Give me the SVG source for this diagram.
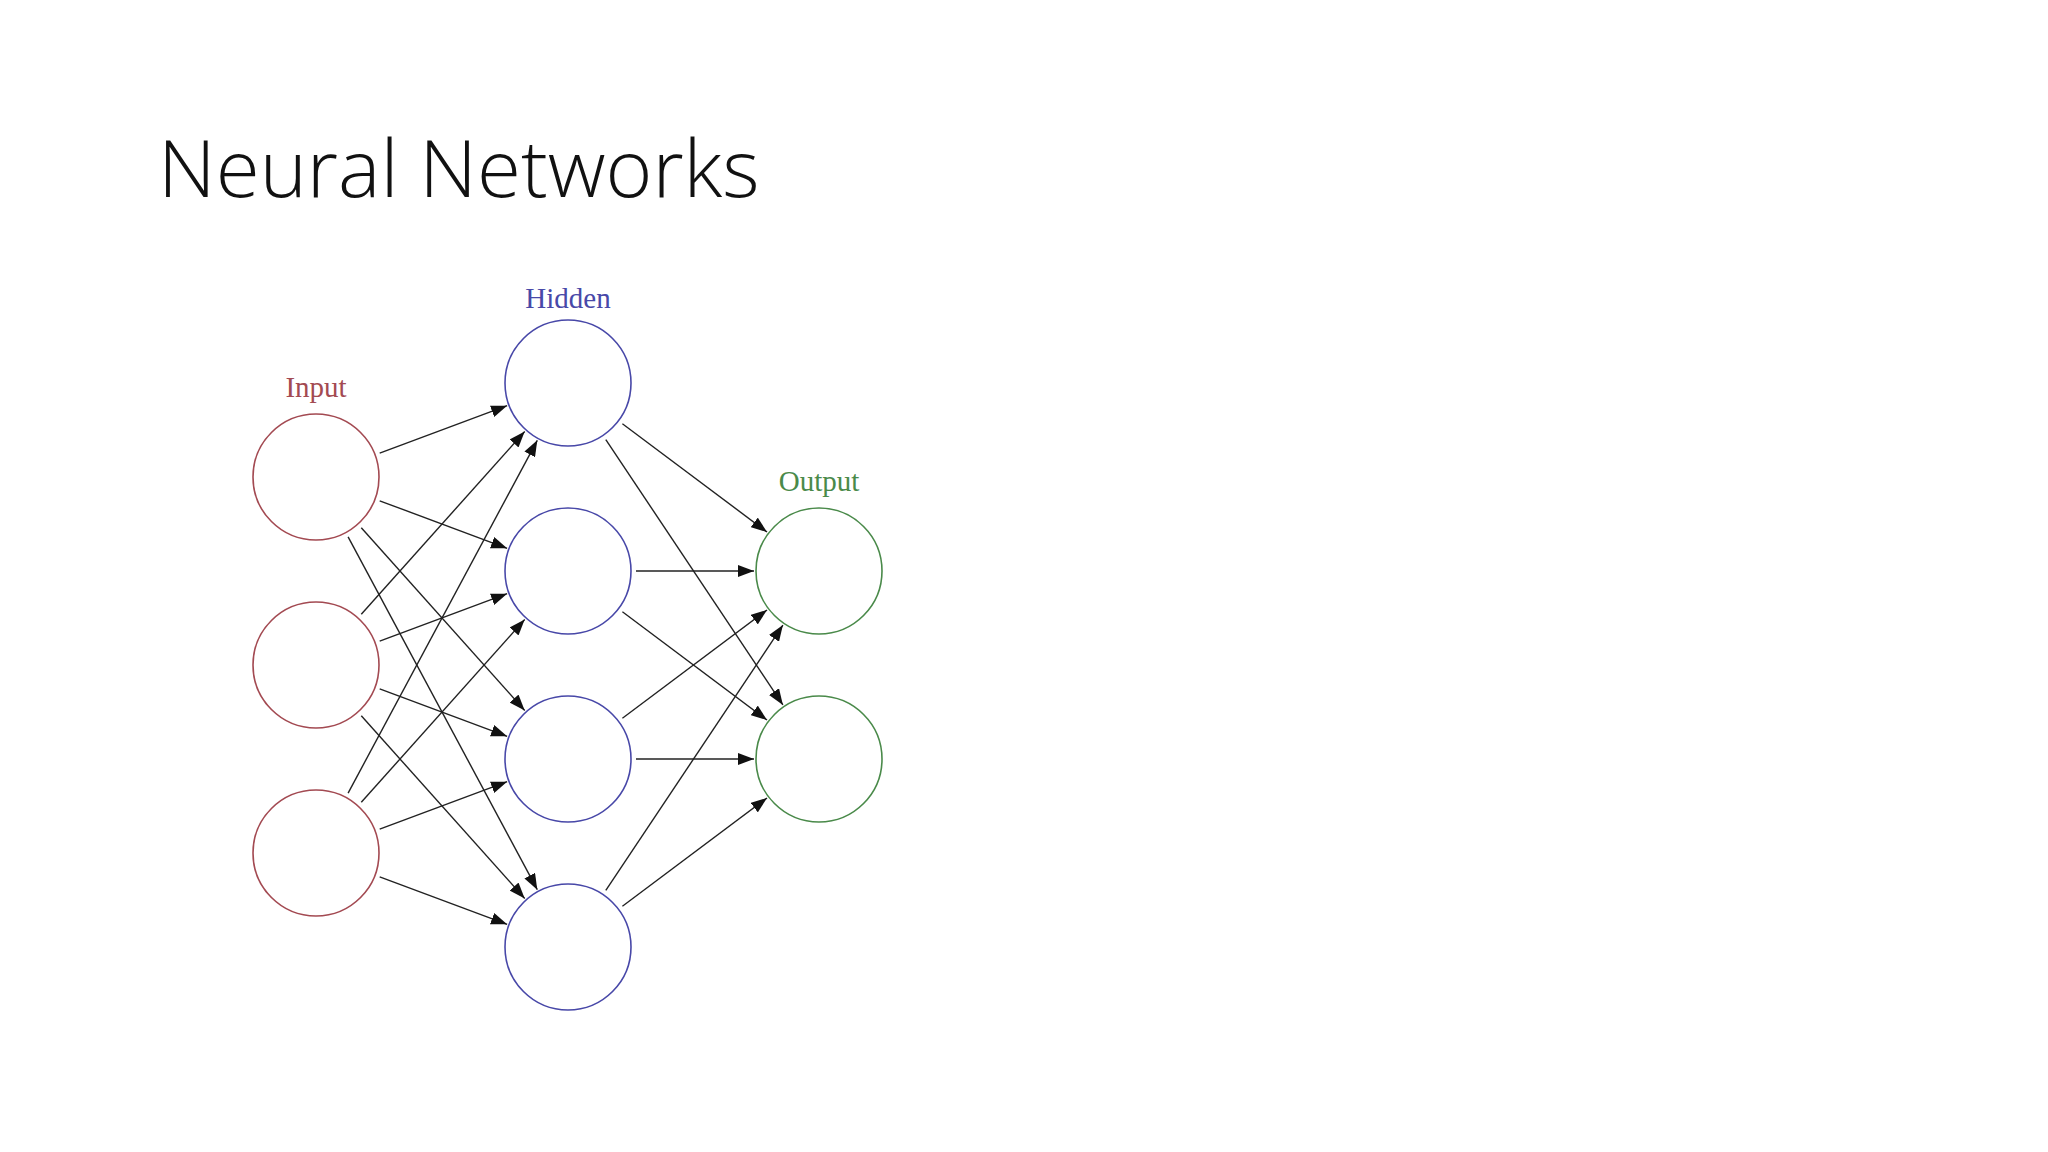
<svg xmlns="http://www.w3.org/2000/svg" width="2048" height="1152" viewBox="0 0 2048 1152">
<style>
.in{fill:none;stroke:#a34a52;stroke-width:1.6}
.hid{fill:none;stroke:#4848a8;stroke-width:1.6}
.out{fill:none;stroke:#4a8a4a;stroke-width:1.6}
.lbl{font-family:"Liberation Serif",serif;font-size:29px;text-anchor:middle}
#edges line{stroke:#222;stroke-width:1.4;marker-end:url(#ah)}
</style>
<defs>
<marker id="ah" markerUnits="userSpaceOnUse" markerWidth="18" markerHeight="12" refX="16" refY="6" orient="auto">
<path d="M0,0 L16,6 L0,12 Z" fill="#111"/>
</marker>
</defs>
<rect width="2048" height="1152" fill="#fff"/>
<text x="158" y="197" font-family="'Open Sans',sans-serif" font-weight="300" font-size="80" fill="#111">Neural Networks</text>
<g id="labels">
<text class="lbl" x="316" y="397" fill="#a34a52">Input</text>
<text class="lbl" x="568" y="308" fill="#4848a8">Hidden</text>
<text class="lbl" x="819" y="491" fill="#4a8a4a">Output</text>
</g>
<g id="i1"><circle class="in" cx="316" cy="477" r="63"/></g>
<g id="i2"><circle class="in" cx="316" cy="665" r="63"/></g>
<g id="i3"><circle class="in" cx="316" cy="853" r="63"/></g>
<g id="h1"><circle class="hid" cx="568" cy="383" r="63"/></g>
<g id="h2"><circle class="hid" cx="568" cy="571" r="63"/></g>
<g id="h3"><circle class="hid" cx="568" cy="759" r="63"/></g>
<g id="h4"><circle class="hid" cx="568" cy="947" r="63"/></g>
<g id="o1"><circle class="out" cx="819" cy="571" r="63"/></g>
<g id="o2"><circle class="out" cx="819" cy="759" r="63"/></g>
<g id="edges">
<line x1="379.7" y1="453.2" x2="507.1" y2="405.7"/>
<line x1="379.7" y1="500.8" x2="507.1" y2="548.3"/>
<line x1="361.3" y1="527.7" x2="524.7" y2="710.5"/>
<line x1="348.1" y1="536.9" x2="537.3" y2="889.7"/>
<line x1="361.3" y1="614.3" x2="524.7" y2="431.5"/>
<line x1="379.7" y1="641.2" x2="507.1" y2="593.7"/>
<line x1="379.7" y1="688.8" x2="507.1" y2="736.3"/>
<line x1="361.3" y1="715.7" x2="524.7" y2="898.5"/>
<line x1="348.1" y1="793.1" x2="537.3" y2="440.3"/>
<line x1="361.3" y1="802.3" x2="524.7" y2="619.5"/>
<line x1="379.7" y1="829.2" x2="507.1" y2="781.7"/>
<line x1="379.7" y1="876.8" x2="507.1" y2="924.3"/>
<line x1="622.4" y1="423.8" x2="767" y2="532"/>
<line x1="605.8" y1="439.6" x2="782.9" y2="704.9"/>
<line x1="636" y1="571" x2="754" y2="571"/>
<line x1="622.4" y1="611.8" x2="767" y2="720"/>
<line x1="622.4" y1="718.2" x2="767" y2="610"/>
<line x1="636" y1="759" x2="754" y2="759"/>
<line x1="605.8" y1="890.4" x2="782.9" y2="625.1"/>
<line x1="622.4" y1="906.2" x2="767" y2="798"/>
</g>
</svg>
